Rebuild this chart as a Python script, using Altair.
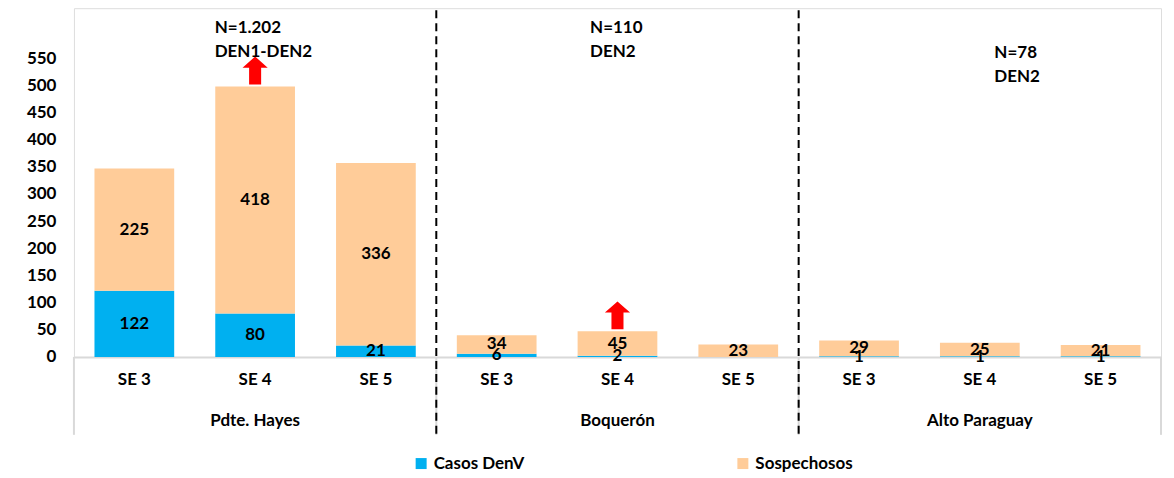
import altair as alt
import pandas as pd

groups = ["Pdte. Hayes", "Boquerón", "Alto Paraguay"]
weeks = ["SE 3", "SE 4", "SE 5"]
casos = [122, 80, 21, 6, 2, 0, 1, 1, 1]
sospechosos = [225, 418, 336, 34, 45, 23, 29, 25, 21]
series = ["Casos DenV", "Sospechosos"]
colors = ["#00B0F0", "#FFCC99"]
annotations = ["N=1.202\nDEN1-DEN2", "N=110\nDEN2", "N=78\nDEN2"]
ann_dx = [20, 33, 75]
ann_y = [25, 25, 50]
arrow_keys = ["Pdte. Hayes|SE 4", "Boquerón|SE 4"]
y_ticks = list(range(0, 551, 50))

FONT = "Lato"
FS = 17

keys = [f"{g}|{w}" for g in groups for w in weeks]
rows = []
for i, k in enumerate(keys):
    rows.append({"key": k, "series": series[0], "value": casos[i], "order": 0})
    rows.append({"key": k, "series": series[1], "value": sospechosos[i], "order": 1})
df = pd.DataFrame(rows)
totals = {k: casos[i] + sospechosos[i] for i, k in enumerate(keys)}

H = 349
xscale = alt.Scale(paddingInner=0, paddingOuter=0)
yscale = alt.Scale(domain=[0, 642], nice=False)

xaxis = alt.Axis(
    labelExpr="split(datum.label, '|')[1]", labelAngle=0, ticks=False,
    domainColor="#D9D9D9", domainWidth=2, labelPadding=15, bandPosition=0.5,
    labelAlign="center", grid=False, title=None,
    labelFont=FONT, labelFontSize=FS, labelFontWeight="bold", labelColor="black",
)
yaxis = alt.Axis(
    values=y_ticks, grid=False, domain=False, ticks=False, labelOverlap=False,
    labelPadding=18, minExtent=60, maxExtent=60, title=None,
    labelFont=FONT, labelFontSize=FS, labelFontWeight="bold", labelColor="black",
)


def X(field="key:N", **kw):
    return alt.X(field, sort=keys, scale=xscale, axis=xaxis, title=None, **kw)


def Y(field, **kw):
    return alt.Y(field, scale=yscale, axis=yaxis, title=None, **kw)


bars = alt.Chart(df).mark_bar(width=alt.RelativeBandSize(0.66)).encode(
    x=X(),
    y=Y("value:Q", stack="zero"),
    color=alt.Color("series:N", scale=alt.Scale(domain=series, range=colors),
                    legend=alt.Legend(orient="none", legendX=339, legendY=447,
                                      direction="horizontal", title=None,
                                      symbolType="square", symbolSize=121,
                                      symbolStrokeWidth=0, labelOffset=4,
                                      columnPadding=210,
                                      labelFont=FONT, labelFontSize=FS,
                                      labelFontWeight="bold", labelColor="black")),
    order=alt.Order("order:Q"),
)

labels = alt.Chart(df).transform_stack(
    stack="value", groupby=["key"], sort=[alt.SortField("order")], as_=["y0", "y1"]
).transform_calculate(mid="(datum.y0 + datum.y1) / 2").transform_filter(
    "datum.value > 0"
).mark_text(font=FONT, fontSize=FS, fontWeight="bold", color="black", baseline="middle").encode(
    x=X(),
    y=Y("mid:Q"),
    text="value:Q",
)

arrow_path = "M0,-1 L0.9,-0.2 L0.43,-0.2 L0.43,1 L-0.43,1 L-0.43,-0.2 L-0.9,-0.2 Z"
arr_df = pd.DataFrame({"key": arrow_keys, "total": [totals[k] for k in arrow_keys]})
arrows = alt.Chart(arr_df).mark_point(
    shape=arrow_path, size=784, filled=True, color="#FF0000", opacity=1,
    strokeWidth=0, yOffset=-16,
).encode(
    x=X(),
    y=Y("total:Q"),
)

sep_df = pd.DataFrame({"key": [f"{g}|{weeks[0]}" for g in groups[1:]]})
separators = alt.Chart(sep_df).mark_rule(
    color="black", strokeWidth=2, strokeDash=[8, 5]
).encode(
    x=X(bandPosition=0),
    y=alt.value(2), y2=alt.value(427),
)

frame_df = pd.DataFrame({"key": [f"{g}|{weeks[0]}" for g in groups]})
frame_left = alt.Chart(frame_df).mark_rule(color="#D9D9D9", strokeWidth=2).encode(
    x=X(bandPosition=0),
    y=alt.value(H), y2=alt.value(427),
)
frame_right_df = pd.DataFrame({"key": [keys[-1]]})
frame_right = alt.Chart(frame_right_df).mark_rule(color="#D9D9D9", strokeWidth=2).encode(
    x=X(bandPosition=1),
    y=alt.value(H), y2=alt.value(427),
)

grp_df = pd.DataFrame({"key": [f"{g}|{weeks[1]}" for g in groups], "group": groups})
group_labels = alt.Chart(grp_df).mark_text(
    font=FONT, fontSize=FS, fontWeight="bold", color="black", baseline="middle"
).encode(
    x=X(),
    y=alt.value(413),
    text="group:N",
)

ann_layers = []
for g, txt, dx, yy in zip(groups, annotations, ann_dx, ann_y):
    adf = pd.DataFrame({"key": [f"{g}|{weeks[1]}"], "txt": [txt]})
    ann_layers.append(
        alt.Chart(adf).mark_text(
            font=FONT, fontSize=FS, fontWeight="bold", color="black",
            align="left", baseline="alphabetic", lineBreak="\n", lineHeight=24, dx=dx,
        ).encode(
            x=X(bandPosition=0),
            y=alt.value(yy),
            text="txt:N",
        )
    )

chart = alt.layer(
    frame_left, frame_right, bars, labels, arrows, separators, group_labels, *ann_layers
).properties(
    width=1088, height=H,
    padding={"left": 6, "top": 0, "right": 4, "bottom": 4},
).configure_view(strokeWidth=0, stroke="transparent").configure_axisY(
    domain=False, ticks=False, grid=False
).configure(background="white")

chart.save("out.html", embed_options={"renderer": "svg", "actions": False})
